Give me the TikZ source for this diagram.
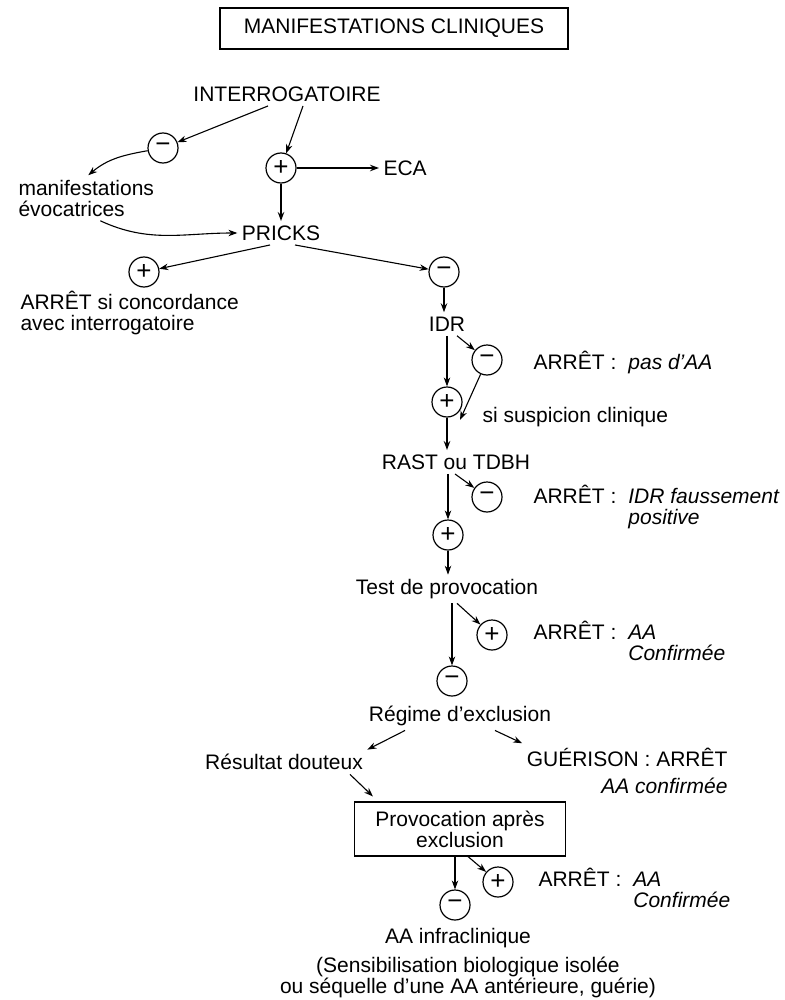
\documentclass[tikz,border=0pt]{standalone}
\usepackage{fontspec}
\setmainfont{Liberation Sans}
\usetikzlibrary{arrows.meta}
\tikzset{
  sgn/.style={draw,circle,line width=1.2pt,minimum size=30pt,inner sep=0pt,font=\fontsize{26}{26}\selectfont},
  cadre/.style={draw,line width=1.1pt},
}
\newcommand{\arret}{ARRÊT~:\kern12pt}

\begin{document}
\begin{tikzpicture}[x=1pt,y=-1pt,font=\fontsize{21}{21}\selectfont,
    every node/.append style={inner sep=4pt},
    >={Stealth[length=9pt,width=6.5pt]},line width=1.1pt]
    \useasboundingbox (0,0) rectangle (784,1000);
    \node[cadre,minimum width=348pt,minimum height=41pt] (titre) at (394,28.5) {MANIFESTATIONS CLINIQUES};
    \node (interro) at (287,94) {INTERROGATOIRE};
    \node[sgn] (m1) at (163,148) {−};
    \node[sgn] (p1) at (281,168) {+};
    \node[anchor=west] (eca) at (379,168) {ECA};
    \node[anchor=west,align=left] (manif) at (14,198) {manifestations\\évocatrices};
    \node (pricks) at (281,233) {PRICKS};
    \node[sgn] (pL) at (144,272) {+};
    \node[anchor=west,align=left] (concord) at (16,313) {ARRÊT si concordance\\avec interrogatoire};
    \node[sgn] (mR) at (444,272) {−};
    \node (idr) at (447,324) {IDR};
    \node[sgn] (m2) at (487,360) {−};
    \node[anchor=west] (arr2) at (529,362) {\arret\textit{pas d’AA}};
    \node[sgn] (p2) at (447,402) {+};
    \node[anchor=west] (susp) at (478,417) {si suspicion clinique};
    \node (rast) at (456,462) {RAST ou TDBH};
    \node[sgn] (m3) at (487,497) {−};
    \node[anchor=west] (arr3) at (529,508) {\begin{tabular}{@{}l@{}l@{}}\arret&\textit{IDR faussement}\\&\textit{positive}\end{tabular}};
    \node[sgn] (p3) at (448,535) {+};
    \node (test) at (447,589) {Test de provocation};
    \node[sgn] (p4) at (492,635) {+};
    \node[anchor=west] (arr4) at (529,644) {\begin{tabular}{@{}l@{}l@{}}\arret&\textit{AA}\\&\textit{Confirmée}\end{tabular}};
    \node[sgn] (m4) at (452,681) {−};
    \node (regime) at (460,716) {Régime d’exclusion};
    \node (resultat) at (284,762) {Résultat douteux};
    \node[anchor=east] (gueris) at (732,774) {\begin{tabular}{@{}r@{}}GUÉRISON~:~ARRÊT\\[6pt]\textit{AA confirmée}\end{tabular}};
    \node[cadre,align=center,minimum width=211pt,minimum height=54pt] (prov) at (460,829) {Provocation après\\exclusion};
    \node[sgn] (m5) at (455,905) {−};
    \node[sgn] (p5) at (498,882) {+};
    \node[anchor=west] (arr5) at (534,891) {\begin{tabular}{@{}l@{}l@{}}\arret&\textit{AA}\\&\textit{Confirmée}\end{tabular}};
    \node (infra) at (458,938) {AA infraclinique};
    \node[align=center] (sensib) at (468,977) {(Sensibilisation biologique isolée\\ou séquelle d’une AA antérieure, guérie)};
    \coordinate (j1) at (460,420);
    % fleches
    \draw[->] ([xshift=-19pt]interro.south) -- (m1);
    \draw[->] ([xshift=16pt]interro.south) -- (p1);
    \draw[->] (m1) to[out=190,in=40] ([xshift=2pt]manif.north);
    \draw[->] ([xshift=14pt]manif.south) to[out=-25,in=180] (pricks.west);
    \draw[->] (p1) -- (eca.west);
    \draw[->] (p1) -- (pricks);
    \draw[->] ([xshift=-11pt]pricks.south) -- (pL);
    \draw[->] ([xshift=14pt]pricks.south) -- (mR);
    \draw[->] (mR) -- (mR |- idr.north);
    \draw[->] ([xshift=10pt]idr.south) -- (m2);
    \draw[->] (idr) -- (p2);
    \draw[->] (m2) -- (j1);
    \draw[->] (p2) -- (p2 |- rast.north);
    \draw[->] (p3 |- rast.south) -- (p3);
    \draw[->] ([xshift=7pt]p3 |- rast.south) -- (m3);
    \draw[->] (p3) -- (p3 |- test.north);
    \draw[->] (m4 |- test.south) -- (m4);
    \draw[->] ([xshift=10pt]test.south) -- (p4);
    \draw[->] ([xshift=-55pt]regime.south) -- (resultat.north east);
    \draw[->] ([xshift=35pt]regime.south) -- (gueris.north west);
    \draw[->] ([xshift=66pt]resultat.south) -- ([xshift=19pt,yshift=5pt]prov.north west);
    \draw[->] (m5 |- prov.south) -- (m5);
    \draw[->] ([xshift=13pt]m5 |- prov.south) -- (p5);
\end{tikzpicture}
\end{document}
